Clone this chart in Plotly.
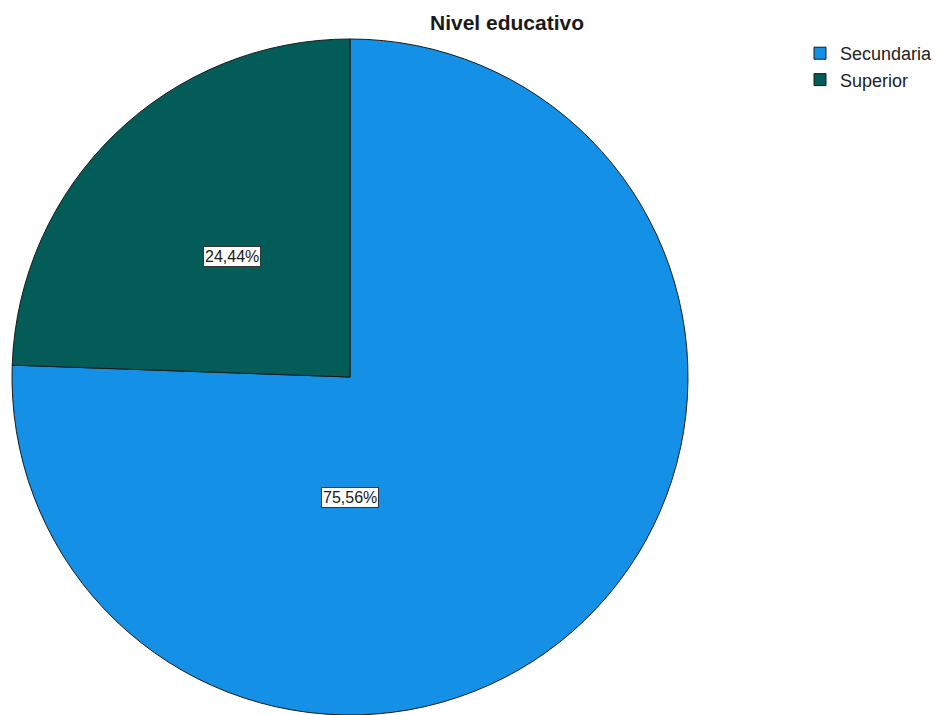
import plotly.graph_objects as go

categories = ["Secundaria", "Superior"]
values = [75.56, 24.44]
colors = ["#1490e6", "#035c58"]

# label anchor positions (paper coords) for each slice's boxed percentage
label_pos = [(350/941, 1 - 497/715), (232/941, 1 - 256/715)]

fig = go.Figure()
fig.add_trace(go.Pie(
    labels=categories,
    values=values,
    sort=False,
    direction="clockwise",
    rotation=0,
    marker=dict(colors=colors, line=dict(color="#1a1a1a", width=1)),
    textinfo="none",
    hoverinfo="label+percent",
    domain=dict(x=[11/941, 689/941], y=[0, 676/715]),
))

for v, (px, py) in zip(values, label_pos):
    fig.add_annotation(
        x=px, y=py, xref="paper", yref="paper",
        xanchor="center", yanchor="middle",
        text=f"{v:.2f}%".replace(".", ","),
        showarrow=False,
        font=dict(family="Liberation Sans, Arial", size=16, color="#1a1a1a"),
        bgcolor="white", bordercolor="#333333", borderwidth=1, borderpad=1,
    )

fig.update_layout(
    width=941, height=715,
    margin=dict(l=0, r=0, t=0, b=0, autoexpand=False),
    paper_bgcolor="white",
    title=dict(text="<b>Nivel educativo</b>", x=507/941, xanchor="center",
               y=1 - 23/715, yanchor="middle",
               font=dict(family="Liberation Sans, Arial", size=21, color="#1a1a1a")),
    legend=dict(x=800/941, y=1 - 35/715, xanchor="left", yanchor="top",
                font=dict(family="Liberation Sans, Arial", size=18, color="#222222"),
                tracegroupgap=0, itemwidth=30),
    showlegend=True,
)

fig.write_html("out.html")
